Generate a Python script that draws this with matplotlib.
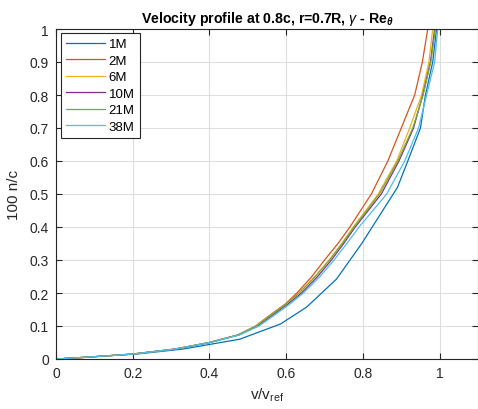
import matplotlib
matplotlib.use("Agg")
import matplotlib.pyplot as plt

plt.rcParams['font.family'] = ['Liberation Sans', 'DejaVu Sans']
plt.rcParams['mathtext.fontset'] = 'custom'
plt.rcParams['mathtext.rm'] = 'Liberation Sans'
plt.rcParams['mathtext.it'] = 'Liberation Sans:italic'
plt.rcParams['mathtext.bf'] = 'Liberation Sans:bold:italic'

# wall-normal distance (100 n/c) of the sampled stations
height = [0, 0.005, 0.015, 0.03, 0.05, 0.073, 0.1, 0.135, 0.167, 0.2, 0.25,
          0.3, 0.35, 0.4, 0.5, 0.6, 0.7, 0.8, 0.9, 1.0, 1.05]
height_1M = [0, 0.005, 0.015, 0.03, 0.06, 0.106, 0.157, 0.242, 0.35, 0.52,
             0.6, 0.7, 0.8, 0.9, 1.0, 1.05]

# velocity ratio v/v_ref for each Reynolds number
v_1M = [0, 0.07, 0.21, 0.33, 0.479, 0.585, 0.653, 0.731, 0.797, 0.89,
        0.917, 0.95, 0.963, 0.982, 0.992, 0.996]
v_2M = [0, 0.075, 0.2, 0.31, 0.40, 0.474, 0.52, 0.56, 0.598, 0.628, 0.667,
        0.70, 0.735, 0.766, 0.822, 0.865, 0.90, 0.935, 0.955, 0.969, 0.975]
v_6M = [0, 0.075, 0.2, 0.31, 0.40, 0.475, 0.522, 0.562, 0.60, 0.633, 0.675,
        0.712, 0.745, 0.775, 0.84, 0.888, 0.922, 0.953, 0.972, 0.982, 0.986]
v_10M = [0, 0.075, 0.2, 0.31, 0.40, 0.477, 0.526, 0.567, 0.605, 0.64, 0.682,
         0.718, 0.75, 0.78, 0.848, 0.894, 0.932, 0.956, 0.976, 0.987, 0.99]
v_21M = [0, 0.075, 0.2, 0.31, 0.40, 0.475, 0.522, 0.562, 0.60, 0.634, 0.676,
         0.713, 0.746, 0.777, 0.843, 0.891, 0.93, 0.957, 0.977, 0.989, 0.992]
v_38M = [0, 0.075, 0.2, 0.31, 0.402, 0.479, 0.529, 0.572, 0.61, 0.645, 0.688,
         0.725, 0.758, 0.79, 0.862, 0.909, 0.945, 0.966, 0.987, 0.995, 0.998]

labels = ['1M', '2M', '6M', '10M', '21M', '38M']
series = [(v_1M, height_1M), (v_2M, height), (v_6M, height),
          (v_10M, height), (v_21M, height), (v_38M, height)]
colors = ['#0072BD', '#D95319', '#EDB120', '#7E2F8E', '#77AC30', '#4DBEEE']

xticks = [0, 0.2, 0.4, 0.6, 0.8, 1]
xticklabels = ['0', '0.2', '0.4', '0.6', '0.8', '1']
yticks = [0, 0.1, 0.2, 0.3, 0.4, 0.5, 0.6, 0.7, 0.8, 0.9, 1]
yticklabels = ['0', '0.1', '0.2', '0.3', '0.4', '0.5', '0.6', '0.7', '0.8', '0.9', '1']

fig = plt.figure(figsize=(4.78, 4.10), dpi=100)
ax = fig.add_axes([56 / 478, 50 / 410, 422 / 478, 330 / 410])

for (vals, h), lab, col in zip(series, labels, colors):
    ax.plot(vals, h, color=col, lw=0.9, label=lab)

ax.set_xlim(0, 1.1)
ax.set_ylim(0, 1)
ax.set_xticks(xticks)
ax.set_xticklabels(xticklabels)
ax.set_yticks(yticks)
ax.set_yticklabels(yticklabels)
ax.grid(True, color='#dedede', lw=0.8)
ax.set_axisbelow(True)

axis_col = '#262626'
for sp in ax.spines.values():
    sp.set_color(axis_col)
    sp.set_linewidth(0.8)
ax.tick_params(direction='in', length=4, width=0.8, colors=axis_col,
               labelsize=10, top=True, right=True, pad=5)
for t in ax.get_xticklabels() + ax.get_yticklabels():
    t.set_color(axis_col)

ax.set_xlabel('v/v$_{\\mathrm{ref}}$', fontsize=11, color=axis_col, labelpad=4)
ax.set_ylabel('100 n/c', fontsize=11, color=axis_col, labelpad=6)
ax.set_title('Velocity profile at 0.8c, r=0.7R, $\\gamma$ - Re$_{\\mathbf{\\theta}}$',
             fontsize=10.2, fontweight='bold', color='black', pad=5)

leg = ax.legend(loc='upper left', bbox_to_anchor=(0.006, 0.996), fontsize=9.5,
                frameon=True, fancybox=False, handlelength=2.9,
                handletextpad=0.3, borderpad=0.4, labelspacing=0.32,
                borderaxespad=0.2)
leg.get_frame().set_edgecolor(axis_col)
leg.get_frame().set_linewidth(0.8)
leg.get_frame().set_alpha(1)

fig.savefig('out.png', dpi=100)
